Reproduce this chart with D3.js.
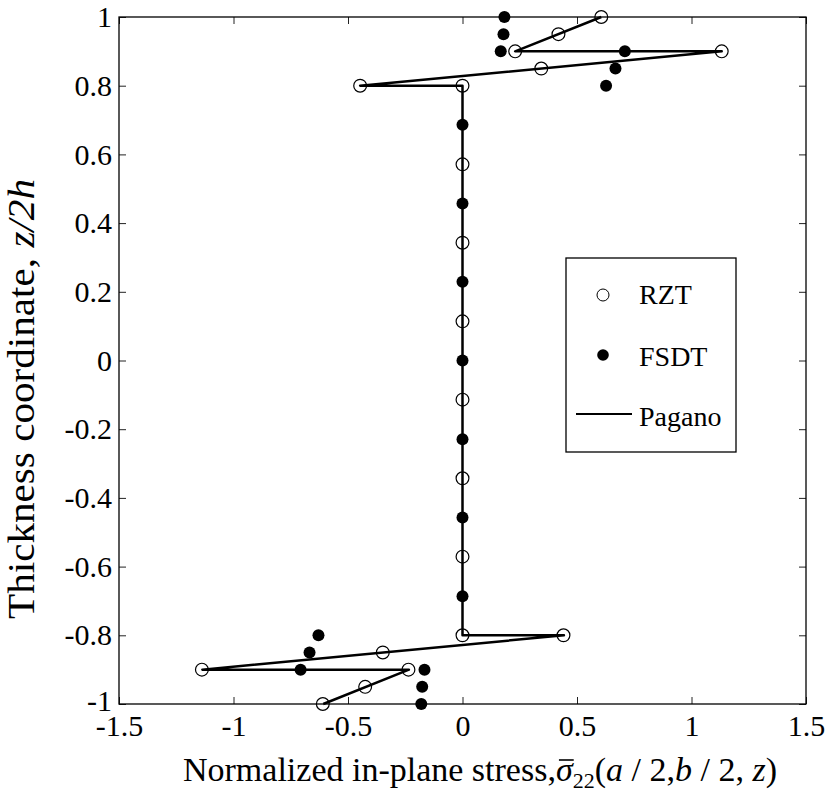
<!DOCTYPE html>
<html>
<head>
<meta charset="utf-8">
<script src="https://cdn.jsdelivr.net/npm/d3@7"></script>
<style>
  body { margin: 0; background: #fff; }
  text { font-family: "Liberation Serif", "Times New Roman", serif; fill: #000; }
</style>
</head>
<body>
<div id="chart"></div>
<script>
// tick labels
const xTicks = [-1.5, -1, -0.5, 0, 0.5, 1, 1.5];
const yTicks = [-1, -0.8, -0.6, -0.4, -0.2, 0, 0.2, 0.4, 0.6, 0.8, 1];

// RZT (open circles)
const rztStress = [0.606, 0.419, 0.23, 1.132, 0.344, -0.447, 0,
  0, 0, 0, 0, 0, 0,
  0, 0.441, -0.348, -1.138, -0.236, -0.425, -0.61];
const rztZ = [1, 0.95, 0.9, 0.9, 0.85, 0.8, 0.8,
  0.571, 0.343, 0.114, -0.114, -0.343, -0.571,
  -0.8, -0.8, -0.85, -0.9, -0.9, -0.95, -1];

// FSDT (filled dots)
const fsdtStress = [0.183, 0.179, 0.167, 0.709, 0.668, 0.627,
  0, 0, 0, 0, 0, 0, 0,
  -0.629, -0.668, -0.707, -0.166, -0.176, -0.18];
const fsdtZ = [1, 0.95, 0.9, 0.9, 0.85, 0.8,
  0.686, 0.457, 0.229, 0, -0.229, -0.457, -0.686,
  -0.8, -0.85, -0.9, -0.9, -0.95, -1];

// Pagano (solid line)
const paganoStress = [0.606, 0.23, 1.132, -0.447, 0, 0, 0.443, -1.136, -0.234, -0.608];
const paganoZ = [1, 0.9, 0.9, 0.8, 0.8, -0.8, -0.8, -0.9, -0.9, -1];

const width = 825, height = 798;
const plot = {left: 119, right: 806, top: 17, bottom: 704};

const svg = d3.select('#chart')
  .append('svg')
  .attr('width', width)
  .attr('height', height);

const x = d3.scaleLinear().domain([-1.5, 1.5]).range([plot.left, plot.right]);
const y = d3.scaleLinear().domain([-1, 1]).range([plot.bottom, plot.top]);

const fmt = d => String(d);

// axes, ticks pointing inward like matlab
function styleAxis(g) {
  g.attr('font-family', null);
  g.select('.domain').remove();
  g.selectAll('.tick line').attr('stroke', '#222').attr('stroke-width', 1);
  g.selectAll('.tick text').style('font-size', '30px').attr('fill', '#000');
}

svg.append('g')
  .attr('transform', `translate(0,${plot.bottom})`)
  .call(d3.axisBottom(x).tickValues(xTicks).tickFormat(fmt).tickSize(-7).tickPadding(11))
  .call(styleAxis);

svg.append('g')
  .attr('transform', `translate(0,${plot.top})`)
  .call(d3.axisTop(x).tickValues(xTicks).tickFormat('').tickSize(-7))
  .call(styleAxis);

svg.append('g')
  .attr('transform', `translate(${plot.left},0)`)
  .call(d3.axisLeft(y).tickValues(yTicks).tickFormat(fmt).tickSize(-7).tickPadding(7))
  .call(styleAxis)
  .call(g => g.selectAll('.tick text').filter(d => d === -1).attr('dy', '0.2em'));

svg.append('g')
  .attr('transform', `translate(${plot.right},0)`)
  .call(d3.axisRight(y).tickValues(yTicks).tickFormat('').tickSize(-7))
  .call(styleAxis);

// frame
svg.append('rect')
  .attr('x', plot.left)
  .attr('y', plot.top)
  .attr('width', plot.right - plot.left)
  .attr('height', plot.bottom - plot.top)
  .attr('fill', 'none')
  .attr('stroke', '#000')
  .attr('stroke-width', 1.3);

// Pagano line
const pagano = paganoStress.map((s, i) => [s, paganoZ[i]]);
svg.append('path')
  .datum(pagano)
  .attr('fill', 'none')
  .attr('stroke', '#000')
  .attr('stroke-width', 2.5)
  .attr('stroke-linejoin', 'round')
  .attr('d', d3.line().x(d => x(d[0])).y(d => y(d[1])));

// RZT markers
const rzt = rztStress.map((s, i) => [s, rztZ[i]]);
svg.selectAll('.rzt')
  .data(rzt)
  .enter()
  .append('circle')
  .attr('class', 'rzt')
  .attr('cx', d => x(d[0]))
  .attr('cy', d => y(d[1]))
  .attr('r', 6.4)
  .attr('fill', 'none')
  .attr('stroke', '#000')
  .attr('stroke-width', 1.2);

// FSDT markers
const fsdt = fsdtStress.map((s, i) => [s, fsdtZ[i]]);
svg.selectAll('.fsdt')
  .data(fsdt)
  .enter()
  .append('circle')
  .attr('class', 'fsdt')
  .attr('cx', d => x(d[0]))
  .attr('cy', d => y(d[1]))
  .attr('r', 6)
  .attr('fill', '#000');

// legend
const legend = svg.append('g');
legend.append('rect')
  .attr('x', 566).attr('y', 258)
  .attr('width', 170).attr('height', 194)
  .attr('fill', '#fff')
  .attr('stroke', '#000')
  .attr('stroke-width', 1.3);

legend.append('circle')
  .attr('cx', 603).attr('cy', 295).attr('r', 6)
  .attr('fill', 'none').attr('stroke', '#000').attr('stroke-width', 1);
legend.append('text')
  .attr('x', 639).attr('y', 304)
  .style('font-size', '28px')
  .text('RZT');

legend.append('circle')
  .attr('cx', 603).attr('cy', 355).attr('r', 5.8)
  .attr('fill', '#000');
legend.append('text')
  .attr('x', 639).attr('y', 366)
  .style('font-size', '28px')
  .text('FSDT');

legend.append('line')
  .attr('x1', 576).attr('x2', 632)
  .attr('y1', 414).attr('y2', 414)
  .attr('stroke', '#000').attr('stroke-width', 2);
legend.append('text')
  .attr('x', 639).attr('y', 426)
  .style('font-size', '28px')
  .text('Pagano');

// y axis label
const ylab = svg.append('text')
  .attr('transform', 'translate(34,399) rotate(-90)')
  .attr('text-anchor', 'middle')
  .attr('textLength', 440)
  .attr('lengthAdjust', 'spacingAndGlyphs')
  .style('font-size', '37px');
ylab.append('tspan').text('Thickness coordinate, ');
ylab.append('tspan').style('font-style', 'italic').text('z/2h');

// x axis label
const xPrefix = 'Normalized in-plane stress,';
const xlab = svg.append('text')
  .attr('x', 480)
  .attr('y', 781)
  .attr('text-anchor', 'middle')
  .style('font-size', '34px');
xlab.append('tspan').text(xPrefix);
xlab.append('tspan').style('font-style', 'italic').text('\u03C3');
xlab.append('tspan').attr('dy', 7).style('font-size', '22px').text('22');
xlab.append('tspan').attr('dy', -7).text('(');
xlab.append('tspan').style('font-style', 'italic').text('a');
xlab.append('tspan').text(' / 2,');
xlab.append('tspan').style('font-style', 'italic').text('b');
xlab.append('tspan').text(' / 2, ');
xlab.append('tspan').style('font-style', 'italic').text('z');
xlab.append('tspan').text(')');

// bar over sigma
const sig = xlab.node().getExtentOfChar(xPrefix.length);
svg.append('line')
  .attr('x1', sig.x + 3)
  .attr('x2', sig.x + sig.width + 1)
  .attr('y1', 760)
  .attr('y2', 760)
  .attr('stroke', '#000')
  .attr('stroke-width', 1.6);
</script>
</body>
</html>
